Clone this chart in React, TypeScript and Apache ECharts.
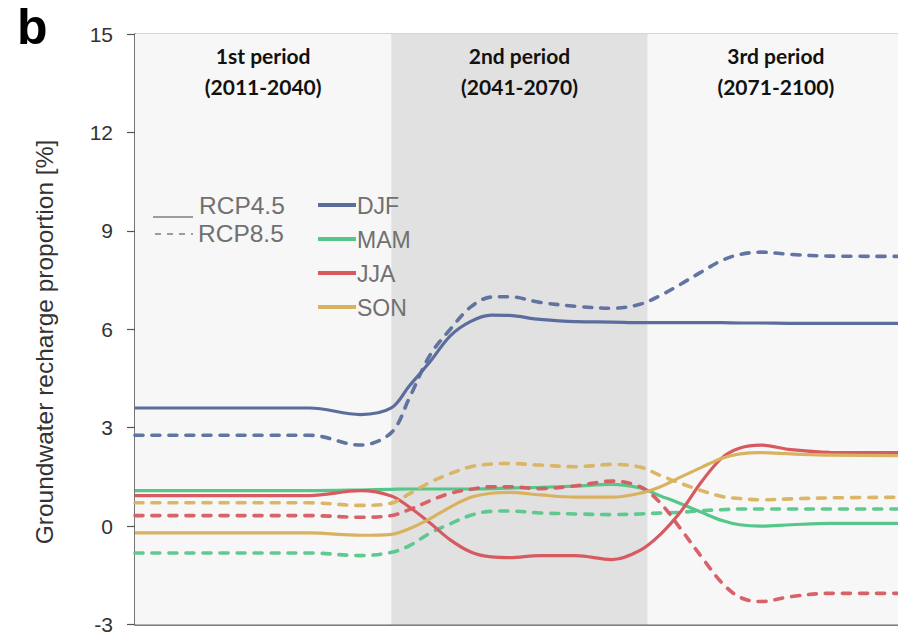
import React, { useEffect, useRef } from "react";
import * as echarts from "echarts";

// x positions along the time axis (0-1: 1st period, 1-2: 2nd period, 2-3: 3rd period)
const xPos = [0, 0.5, 0.68, 0.88, 1.0, 1.07, 1.15, 1.23, 1.31, 1.39, 1.46, 1.58, 1.72, 1.86, 1.97, 2.05, 2.13, 2.21, 2.29, 2.36, 2.44, 2.56, 2.71, 3.0];

const djf45 = [3.6, 3.6, 3.6, 3.4, 3.6, 4.27, 5.0, 5.8, 6.24, 6.43, 6.42, 6.3, 6.23, 6.22, 6.2, 6.2, 6.2, 6.2, 6.2, 6.19, 6.19, 6.18, 6.18, 6.18];
const djf85 = [2.77, 2.77, 2.77, 2.47, 2.85, 3.9, 5.2, 6.0, 6.68, 6.98, 6.99, 6.82, 6.7, 6.64, 6.76, 7.03, 7.38, 7.75, 8.1, 8.28, 8.35, 8.28, 8.23, 8.22];
const mam45 = [1.08, 1.08, 1.08, 1.1, 1.12, 1.13, 1.13, 1.13, 1.13, 1.14, 1.16, 1.18, 1.22, 1.27, 1.16, 0.92, 0.68, 0.42, 0.17, 0.04, 0.0, 0.04, 0.08, 0.08];
const mam85 = [-0.82, -0.82, -0.82, -0.9, -0.8, -0.6, -0.22, 0.07, 0.33, 0.45, 0.46, 0.4, 0.37, 0.35, 0.37, 0.4, 0.42, 0.47, 0.5, 0.52, 0.52, 0.52, 0.52, 0.52];
const jja45 = [0.93, 0.93, 0.93, 1.08, 0.92, 0.58, 0.1, -0.42, -0.79, -0.94, -0.96, -0.9, -0.9, -1.02, -0.74, -0.25, 0.45, 1.35, 2.08, 2.38, 2.47, 2.33, 2.25, 2.24];
const jja85 = [0.32, 0.32, 0.32, 0.27, 0.32, 0.5, 0.77, 1.0, 1.12, 1.2, 1.2, 1.14, 1.23, 1.37, 1.2, 0.7, -0.1, -0.94, -1.73, -2.17, -2.3, -2.15, -2.05, -2.05];
const son45 = [-0.21, -0.21, -0.21, -0.28, -0.25, -0.08, 0.22, 0.58, 0.88, 1.0, 1.03, 0.95, 0.88, 0.88, 1.0, 1.2, 1.5, 1.79, 2.07, 2.2, 2.24, 2.2, 2.16, 2.15];
const son85 = [0.71, 0.71, 0.71, 0.63, 0.7, 0.98, 1.33, 1.6, 1.81, 1.89, 1.91, 1.86, 1.81, 1.88, 1.8, 1.54, 1.3, 1.08, 0.9, 0.84, 0.8, 0.83, 0.86, 0.88];

const seasons = ["DJF", "MAM", "JJA", "SON"];
const scenarios = ["RCP4.5", "RCP8.5"];
const periodLabels = ["1st period\n(2011-2040)", "2nd period\n(2041-2070)", "3rd period\n(2071-2100)"];
const periodBounds = [[0, 1], [1, 2], [2, 3]];
const yTicks = { min: -3, max: 15, interval: 3 };
const yName = "Groundwater recharge proportion [%]";

const colors = ["#5a6d9d", "#55c78a", "#d65a5f", "#d9b25f"];
const bandColors = ["#f7f7f7", "#e1e1e1", "#f7f7f7"];

export default function App() {
  const ref = useRef<HTMLDivElement>(null);
  useEffect(() => {
    if (!ref.current) return;
    const chart = echarts.init(ref.current, null, { renderer: "svg" });
    const toPairs = (ys: number[]) => ys.map((y, i) => [xPos[i], y]);
    const lineData = [
      [djf45, djf85],
      [mam45, mam85],
      [jja45, jja85],
      [son45, son85],
    ];
    const series: any[] = [
      {
        type: "line",
        data: [],
        z: 1,
        silent: true,
        markArea: {
          silent: true,
          label: {
            show: true,
            position: "insideTop",
            distance: 6,
            color: "#111",
            fontFamily: "Lato",
            fontWeight: "bold",
            fontSize: 21,
            lineHeight: 31,
            align: "center",
          },
          data: periodBounds.map((b, i) => [
            { xAxis: b[0], name: periodLabels[i], itemStyle: { color: bandColors[i] } },
            { xAxis: b[1] },
          ]),
        },
      },
    ];
    seasons.forEach((s, si) => {
      scenarios.forEach((sc, ci) => {
        series.push({
          name: s + " " + sc,
          type: "line",
          data: toPairs(lineData[si][ci]),
          showSymbol: false,
          smooth: 0.35,
          z: 3,
          lineStyle: {
            color: colors[si],
            width: ci === 0 ? 3.2 : 3.6,
            type: ci === 0 ? "solid" : [8, 9],
            cap: ci === 0 ? "butt" : "round",
            opacity: ci === 0 ? 1 : 0.95,
          },
        });
      });
    });

    const legendText = { fontFamily: "Liberation Sans", fontSize: 23, fill: "#707070", textVerticalAlign: "middle" };
    const graphic: any[] = [
      {
        type: "text",
        left: 17,
        top: 2,
        z: 100,
        style: { text: "b", fontFamily: "Liberation Sans", fontWeight: "bold", fontSize: 50, fill: "#000" },
      },
      {
        type: "text",
        x: 44,
        y: 342,
        z: 100,
        rotation: Math.PI / 2,
        style: { text: yName, fontFamily: "Liberation Sans", fontSize: 24.5, fill: "#333", textAlign: "center", textVerticalAlign: "middle" },
      },
      { type: "line", z: 100, shape: { x1: 153, y1: 217, x2: 193, y2: 217 }, style: { stroke: "#808080", lineWidth: 1.5 } },
      { type: "line", z: 100, shape: { x1: 155, y1: 234, x2: 193, y2: 234 }, style: { stroke: "#808080", lineWidth: 1.5, lineDash: [6, 6] } },
      { type: "text", z: 100, x: 199, y: 205, style: { ...legendText, fontSize: 24.5, text: scenarios[0] } },
      { type: "text", z: 100, x: 198, y: 233, style: { ...legendText, fontSize: 24.5, text: scenarios[1] } },
    ];
    seasons.forEach((s, i) => {
      const y = 205 + i * 34;
      graphic.push({ type: "line", z: 100, shape: { x1: 318, y1: y, x2: 356, y2: y }, style: { stroke: colors[i], lineWidth: 4 } });
      graphic.push({ type: "text", z: 100, x: 357, y: y + 1, style: { ...legendText, text: s } });
    });

    chart.setOption({
      animation: false,
      backgroundColor: "#ffffff",
      grid: {
        left: 135,
        right: 0,
        top: 34,
        bottom: 7,
        show: true,
        backgroundColor: "#f7f7f7",
        borderColor: "#a8a8a8",
        borderWidth: 1,
      },
      xAxis: {
        type: "value",
        min: 0,
        max: 3,
        axisLine: { show: true, onZero: false, lineStyle: { color: "#555", width: 1.5 } },
        axisTick: { show: false },
        axisLabel: { show: false },
        splitLine: { show: false },
      },
      yAxis: {
        type: "value",
        min: yTicks.min,
        max: yTicks.max,
        interval: yTicks.interval,
        axisLine: { show: true, lineStyle: { color: "#555", width: 1.5 } },
        axisTick: { show: true, length: 8, lineStyle: { color: "#555", width: 1.2 } },
        axisLabel: { color: "#333", fontSize: 21, fontFamily: "Liberation Sans", margin: 22 },
        splitLine: { show: false },
      },
      series,
      graphic,
    });
    return () => chart.dispose();
  }, []);
  return (
    <div style={{ position: "absolute", left: 0, top: 0, width: 898, height: 635, overflow: "hidden" }}>
      <div ref={ref} style={{ width: 904, height: 635 }} />
    </div>
  );
}
